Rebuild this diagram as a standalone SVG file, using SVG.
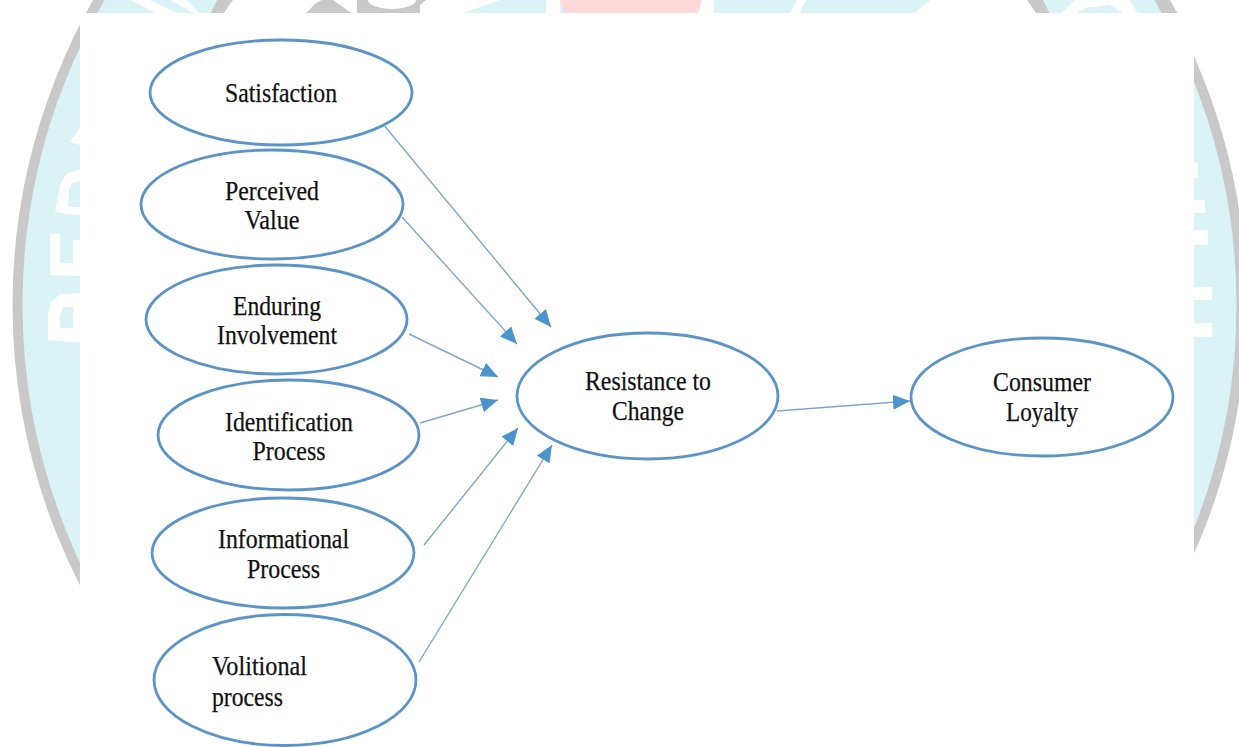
<svg xmlns="http://www.w3.org/2000/svg" width="1239" height="747" viewBox="0 0 1239 747">
<style>
.n{fill:#fff;stroke:#5b94c6;stroke-width:2.8}
.t{font-family:"Liberation Serif","Times New Roman",serif;font-size:27px;fill:#111;stroke:#111;stroke-width:.25;text-anchor:middle}
.l{font-family:"Liberation Serif","Times New Roman",serif;font-size:27px;fill:#111;stroke:#111;stroke-width:.25;text-anchor:start}
.c{fill:none;stroke:#7fa6c9;stroke-width:1.4;marker-end:url(#a)}
.w{fill:#fff}.g{fill:#c9c9c9}
</style>
<defs>
<marker id="a" markerUnits="userSpaceOnUse" markerWidth="17" markerHeight="16" refX="17" refY="8" orient="auto"><polygon points="0,0.5 17,8 0,15.5" fill="#4b94cd"/></marker>
<filter id="b"><feGaussianBlur stdDeviation="0.7"/></filter>
</defs>
<rect width="1239" height="747" fill="#fff"/>
<g id="watermark" filter="url(#b)">
<circle cx="629.5" cy="305" r="612" fill="#d9f3f7" stroke="#c9c9c9" stroke-width="10"/>
<polygon class="w" points="131,0 150,0 180,14 157,14"/>
<polygon class="w" points="170,0 187,0 200,14 195,14"/>
<polygon class="w" points="217,0 500,0 460,14 210,14"/>
<polygon class="g" points="217,0 233,0 223,14 210,14"/>
<polygon class="g" points="305,14 316,3 322,0 333,0 353,14 326,14"/>
<rect class="g" x="357" y="0" width="63" height="14"/>
<ellipse class="w" cx="392" cy="0" rx="24" ry="9"/>
<polygon class="g" points="420,0 426,0 420,5"/>
<polygon fill="#ffd9d9" points="560,0 702,0 698,14 564,14"/>
<rect class="w" x="546" y="0" width="14" height="14"/>
<polygon class="w" points="702,0 714,0 713,14 698,14"/>
<polygon class="w" points="797,0 806,0 799,14 790,14"/>
<polygon class="w" points="930,0 1027,0 1037,14 913,14"/>
<polygon class="g" points="1027,0 1043,0 1050,14 1037,14"/>
<polygon class="w" points="1060,14 1075,0 1130,0 1138,14 1125,14 1110,5 1085,8 1075,14"/>
<polygon class="g" points="1160,0 1170,0 1178,14 1170,14"/>
<rect class="w" x="1190" y="163" width="8" height="15"/>
<rect class="w" x="1190" y="200" width="15" height="13"/>
<rect class="w" x="1190" y="230" width="18" height="15"/>
<rect class="w" x="1190" y="287" width="22" height="13"/>
<rect class="w" x="1190" y="323" width="22" height="14"/>
<polygon class="w" points="84,293 60,294 50,303 48,315 48,340 84,343"/>
<polygon fill="#d9f3f7" points="73,307 64,307 60,315 60,328 73,328"/>
<polygon class="w" points="50,233 60,234 60,263 73,263 73,240 84,240 84,276 50,275"/>
<polygon class="w" points="84,168 66,174 60,185 55,212 84,216 84,208 68,206 69,190 72,183 84,180"/>
<polygon class="w" points="84,122 70,142 84,146"/>
</g>
<rect id="panel" x="80" y="13" width="1114" height="734" fill="#fff"/>
<g id="connectors">
<line class="c" x1="383" y1="124" x2="551" y2="327"/>
<line class="c" x1="402" y1="217" x2="517" y2="344"/>
<line class="c" x1="409" y1="334" x2="498" y2="377"/>
<line class="c" x1="420" y1="423" x2="498" y2="400"/>
<line class="c" x1="424" y1="545" x2="518" y2="428"/>
<line class="c" x1="419" y1="662" x2="552" y2="445"/>
<line class="c" x1="777" y1="411" x2="910" y2="401"/>
</g>
<g id="satisfaction"><ellipse class="n" cx="281" cy="92.5" rx="131" ry="52.5"/><text class="t" x="281" y="102" textLength="112" lengthAdjust="spacingAndGlyphs">Satisfaction</text></g>
<g id="perceived-value"><ellipse class="n" cx="272" cy="204.5" rx="131" ry="54.5"/><text class="t" x="272" y="200" textLength="94" lengthAdjust="spacingAndGlyphs">Perceived</text><text class="t" x="272" y="229" textLength="55" lengthAdjust="spacingAndGlyphs">Value</text></g>
<g id="enduring-involvement"><ellipse class="n" cx="276.5" cy="319.5" rx="130.5" ry="54.5"/><text class="t" x="277" y="315" textLength="88" lengthAdjust="spacingAndGlyphs">Enduring</text><text class="t" x="277" y="344" textLength="120" lengthAdjust="spacingAndGlyphs">Involvement</text></g>
<g id="identification-process"><ellipse class="n" cx="288.5" cy="435" rx="130.5" ry="55"/><text class="t" x="289" y="431" textLength="128" lengthAdjust="spacingAndGlyphs">Identification</text><text class="t" x="289" y="460" textLength="73" lengthAdjust="spacingAndGlyphs">Process</text></g>
<g id="informational-process"><ellipse class="n" cx="283" cy="553" rx="131" ry="55"/><text class="t" x="283.5" y="548" textLength="131" lengthAdjust="spacingAndGlyphs">Informational</text><text class="t" x="283.5" y="578" textLength="73" lengthAdjust="spacingAndGlyphs">Process</text></g>
<g id="volitional-process"><ellipse class="n" cx="285" cy="680" rx="131" ry="65.5"/><text class="l" x="212" y="675" textLength="95" lengthAdjust="spacingAndGlyphs">Volitional</text><text class="l" x="212" y="706" textLength="71" lengthAdjust="spacingAndGlyphs">process</text></g>
<g id="resistance-to-change"><ellipse class="n" cx="647.5" cy="396" rx="130.5" ry="63"/><text class="t" x="648" y="390" textLength="126" lengthAdjust="spacingAndGlyphs">Resistance to</text><text class="t" x="648" y="420" textLength="72" lengthAdjust="spacingAndGlyphs">Change</text></g>
<g id="consumer-loyalty"><ellipse class="n" cx="1042" cy="397" rx="131" ry="59"/><text class="t" x="1042" y="391" textLength="98" lengthAdjust="spacingAndGlyphs">Consumer</text><text class="t" x="1042" y="421" textLength="72" lengthAdjust="spacingAndGlyphs">Loyalty</text></g>
</svg>
